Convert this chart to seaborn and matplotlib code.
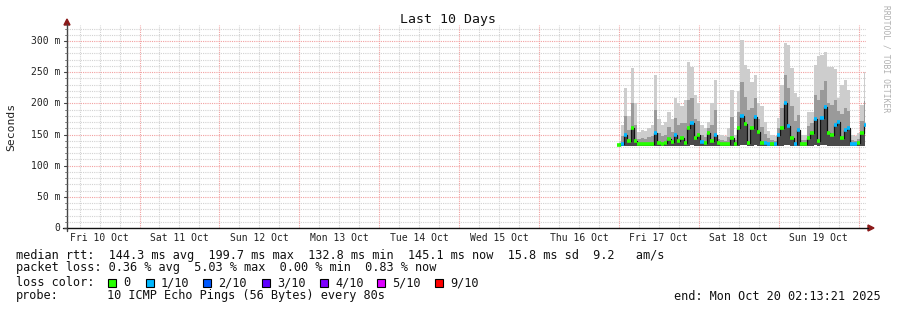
import numpy as np
import pandas as pd
import matplotlib
matplotlib.use("Agg")
import matplotlib.pyplot as plt
import seaborn as sns
from matplotlib.patches import Rectangle, Polygon
from matplotlib.lines import Line2D

# ---------------- data (hourly samples from Fri 17 Oct 00:00) ----------------
median_ms = [133, 135, 149, 140, 160, 140, 135, 134, 134, 135,
             134, 152, 137, 134, 136, 142, 138, 150, 140, 145,
             137, 160, 168, 145, 150, 138, 136, 152, 140, 150,
             136, 134, 134, 135, 144, 134, 160, 180, 167, 136,
             160, 178, 154, 136, 136, 135, 134, 134, 149, 160,
             200, 163, 145, 135, 157, 134, 134, 145, 153, 175,
             140, 176, 194, 152, 150, 165, 170, 145, 157, 160,
             134, 134, 136, 152, 165]
smoke_max_ms = [140, 165, 224, 180, 256, 200, 154, 158, 156, 160,
                165, 245, 175, 165, 170, 186, 175, 208, 200, 195,
                205, 266, 258, 213, 200, 165, 160, 170, 200, 237,
                150, 150, 148, 160, 221, 150, 220, 301, 261, 255,
                234, 245, 200, 195, 170, 155, 150, 148, 176, 230,
                296, 293, 256, 216, 210, 150, 150, 186, 186, 261,
                276, 277, 282, 258, 258, 255, 208, 229, 237, 221,
                150, 148, 152, 197, 250]
smoke_mid_ms = [136, 148, 180, 158, 200, 165, 143, 144, 143, 146,
                147, 190, 152, 147, 150, 162, 154, 176, 166, 168,
                168, 205, 208, 175, 172, 150, 146, 160, 166, 190,
                142, 141, 140, 146, 178, 141, 186, 235, 210, 190,
                193, 208, 175, 162, 151, 144, 141, 140, 161, 192,
                245, 225, 195, 172, 181, 141, 141, 164, 168, 213,
                205, 222, 236, 200, 198, 205, 187, 183, 193, 187,
                141, 140, 143, 172, 203]
smoke_min_ms = [131, 132, 132, 131, 132, 132, 131, 131, 131, 132,
                131, 132, 132, 131, 132, 132, 131, 132, 132, 132,
                131, 132, 133, 132, 132, 132, 131, 132, 132, 132,
                131, 131, 131, 131, 132, 131, 132, 133, 133, 132,
                132, 133, 132, 131, 132, 131, 131, 131, 132, 132,
                133, 133, 132, 131, 132, 131, 131, 132, 132, 133,
                132, 133, 133, 132, 132, 132, 132, 132, 132, 132,
                131, 131, 131, 132, 132]
loss_tenths = [0, 1, 1, 0, 0, 0, 0, 0, 0, 0,
               0, 1, 0, 0, 0, 0, 0, 1, 0, 0,
               0, 0, 1, 0, 0, 1, 0, 0, 0, 1,
               0, 0, 0, 0, 0, 0, 0, 1, 0, 0,
               0, 1, 0, 0, 1, 1, 0, 1, 1, 0,
               1, 1, 0, 1, 1, 0, 0, 0, 0, 1,
               0, 1, 1, 0, 0, 1, 1, 0, 1, 1,
               1, 1, 0, 0, 1]

day_labels = ["Fri 10 Oct", "Sat 11 Oct", "Sun 12 Oct", "Mon 13 Oct", "Tue 14 Oct",
              "Wed 15 Oct", "Thu 16 Oct", "Fri 17 Oct", "Sat 18 Oct", "Sun 19 Oct"]
ytick_vals = [0, 50, 100, 150, 200, 250, 300]
ytick_labels = ["0", "50 m", "100 m", "150 m", "200 m", "250 m", "300 m"]
loss_keys = ["0", "1/10", "2/10", "3/10", "4/10", "5/10", "9/10"]
loss_colors = ["#26ff00", "#00b8ff", "#0059ff", "#5e00ff", "#7e00ff", "#dd00ff", "#ff0000"]
loss_color_map = {0: "#26ff00", 1: "#00b8ff"}

title = "Last 10 Days"
line1 = "median rtt:  144.3 ms avg  199.7 ms max  132.8 ms min  145.1 ms now  15.8 ms sd  9.2   am/s"
line2 = "packet loss: 0.36 % avg  5.03 % max  0.00 % min  0.83 % now"
line4a = "probe:"
line4b = "10 ICMP Echo Pings (56 Bytes) every 80s"
end_text = "end: Mon Oct 20 02:13:21 2025"

# time axis (hours relative to Fri 17 Oct 00:00)
end_h = 72 + 2 + 13 / 60 + 21 / 3600
start_h = end_h - 240
t = np.arange(len(median_ms)) * 1.0

df = pd.DataFrame({"t": t, "median": median_ms, "mx": smoke_max_ms,
                   "mid": smoke_mid_ms, "mn": smoke_min_ms, "loss": loss_tenths})

# ---------------- figure ----------------
W, H = 897, 310
sns.set_theme(style="white")
plt.rcParams['font.family'] = ['DejaVu Sans Mono', 'DejaVu Sans']

fig = plt.figure(figsize=(W / 100, H / 100), dpi=100)
fig.patch.set_facecolor("white")


def fx(x):
    return x / W


def fy(y):
    return 1 - y / H


L, R, T, B = 67, 866, 25, 228
ax = fig.add_axes([fx(L), fy(B), (R - L) / W, (B - T) / H])
ax.set_facecolor("white")
ymax = 300 * (B - T) / (228 - 41)
ax.set_xlim(start_h, end_h)
ax.set_ylim(0, ymax)

grey = "#d2d2d2"
red = "#f2a0a0"
dot = (0, (1, 1))
# vertical grid
for h in range(-162, 75, 6):
    if h % 24 == 0:
        ax.axvline(h, color=red, lw=0.8, ls=dot, zorder=0.5)
    else:
        ax.axvline(h, color=grey, lw=0.8, ls=dot, zorder=0.4)
# horizontal grid
for v in range(10, 330, 10):
    if v % 50 == 0:
        ax.axhline(v, color=red, lw=0.8, ls=dot, zorder=0.5)
    else:
        ax.axhline(v, color=grey, lw=0.8, ls=dot, zorder=0.4)

# smoke
ax.fill_between(df["t"], df["mn"], df["mx"], step="mid", color="#cdcdcd", lw=0, zorder=2)
ax.fill_between(df["t"], df["mn"], df["mid"], step="mid", color="#9a9a9a", lw=0, zorder=2.1)
ax.fill_between(df["t"], df["mn"], df["median"], step="mid", color="#4a4a4a", lw=0, zorder=2.2)

# median connector line + loss-coloured median segments
sns.lineplot(data=df, x="t", y="median", ax=ax, color="#111111", lw=0.9,
             drawstyle="steps-mid", zorder=3, legend=False)
ax.hlines(df["median"], df["t"] - 0.5, df["t"] + 0.5,
          colors=[loss_color_map[v] for v in df["loss"]], lw=2.6, zorder=4)

for s in ax.spines.values():
    s.set_visible(False)
ax.set_xticks([])
ax.set_yticks([])
ax.set_xlabel("")
ax.set_ylabel("")

# axis lines and arrows (figure pixel coords)
fig.add_artist(Line2D([fx(L), fx(L)], [fy(B + 3), fy(24)], color="#444444", lw=1.0))
fig.add_artist(Line2D([fx(L - 4), fx(868)], [fy(B), fy(B)], color="#111111", lw=1.0))
fig.add_artist(Polygon([[fx(64), fy(25)], [fx(70), fy(25)], [fx(67), fy(19)]],
                       closed=True, color="#8b1a1a", transform=fig.transFigure))
fig.add_artist(Polygon([[fx(868), fy(225)], [fx(868), fy(231)], [fx(874), fy(228)]],
                       closed=True, color="#8b1a1a", transform=fig.transFigure))

# y tick marks + labels
for v, lab in zip(ytick_vals, ytick_labels):
    yp = B - v * (B - T) / ymax
    fig.add_artist(Line2D([fx(L - 3), fx(L)], [fy(yp), fy(yp)], color="#444444", lw=0.8))
    fig.text(fx(60), fy(yp), lab, ha="right", va="center", fontsize=7, color="#222222")
for v in range(10, 330, 10):
    if v % 50:
        yp = B - v * (B - T) / ymax
        fig.add_artist(Line2D([fx(L - 2), fx(L)], [fy(yp), fy(yp)], color="#666666", lw=0.6))

# x day labels at noon
pxh = (R - L) / 240.0
for i, lab in enumerate(day_labels):
    h = -156 + 24 * i
    xp = L + (h - start_h) * pxh
    fig.text(fx(xp), fy(238), lab, ha="center", va="center", fontsize=7, color="#222222")

# title / ylabel / credit
fig.text(fx(448), fy(19), title, ha="center", va="center", fontsize=9.5, color="#111111")
fig.text(fx(11), fy(127), "Seconds", ha="center", va="center", rotation=90,
         fontsize=8.2, color="#222222")
fig.text(fx(886), fy(5), "RRDTOOL / TOBI OETIKER", ha="center", va="top", rotation=270,
         fontsize=5.8, color="#b0b0b0")

# legend rows
fs = 8.55
fig.text(fx(16), fy(255), line1, ha="left", va="center", fontsize=fs, color="#111111")
fig.text(fx(16), fy(268), line2, ha="left", va="center", fontsize=fs, color="#111111")
fig.text(fx(16), fy(283), "loss color:", ha="left", va="center", fontsize=fs, color="#111111")
sq_x = [108, 146, 203, 262, 320, 377, 435]
for xs, key, col in zip(sq_x, loss_keys, loss_colors):
    fig.add_artist(Rectangle((fx(xs), fy(287)), 8 / W, 8 / H, facecolor=col,
                             edgecolor="#000000", lw=0.8, transform=fig.transFigure))
    fig.text(fx(xs + 15), fy(283), key, ha="left", va="center", fontsize=fs, color="#111111")
fig.text(fx(16), fy(296), line4a, ha="left", va="center", fontsize=fs, color="#111111")
fig.text(fx(107), fy(296), line4b, ha="left", va="center", fontsize=fs, color="#111111")
fig.text(fx(881), fy(296), end_text, ha="right", va="center", fontsize=fs, color="#111111")

fig.savefig("out.png", dpi=100, facecolor="white")
